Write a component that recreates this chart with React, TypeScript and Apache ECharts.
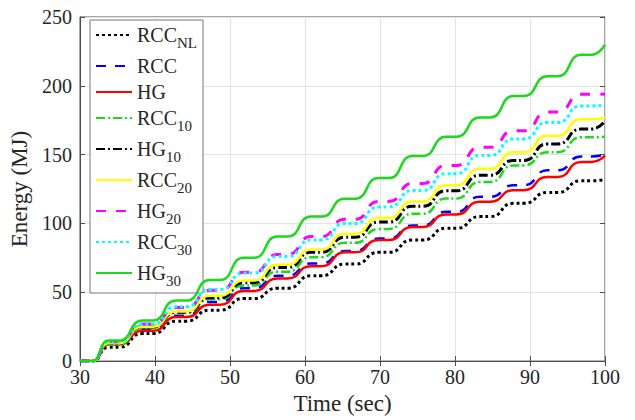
import React, { useEffect, useRef } from "react";
import * as echarts from "echarts";

// Times (sec) at the centre of each plateau of the stepped energy curves
const stepCenters = [34.5, 39, 43.5, 48, 52.5, 57, 61.5, 66, 70.5, 75, 79.5, 84, 88.5, 93, 97.5];
const startTime = 30;
const riseStart = 31.6;
const endTime = 100;
const plateauHalf = 0.7;

const seriesNames = ["RCC_NL", "RCC", "HG", "RCC_10", "HG_10", "RCC_20", "HG_20", "RCC_30", "HG_30"];

// Plateau energies (MJ) and energy at t = 100 s
const rccNL = [10, 20, 29, 37, 45.5, 53, 62, 70.5, 79, 88, 96.5, 105, 114.6, 122.5, 131];
const rccNLEnd = 132;
const rcc = [12, 23, 33, 43, 53, 62, 71, 80, 89, 98.5, 108.5, 119.4, 127.8, 138.6, 148.7];
const rccEnd = 150;
const hg = [12, 22, 32, 41, 51, 60, 69, 79, 88, 97.5, 106.6, 115.8, 124.2, 133.8, 144.6];
const hgEnd = 149.4;
const rcc10 = [12, 24, 35, 45, 55, 65, 75.5, 86, 96, 107, 118.2, 130.2, 142.2, 151.8, 162.6];
const rcc10End = 163;
const hg10 = [13, 25, 35.5, 46, 57, 68, 79, 90, 101, 112.5, 123.7, 135, 145.8, 157.8, 168.6];
const hg10End = 174.6;
const rcc20 = [13, 25, 36, 47.5, 58.5, 70, 81, 92.5, 104, 116, 127.8, 139.8, 151.8, 163.8, 175.8];
const rcc20End = 177;
const hg20 = [14, 27, 39, 51.5, 64.5, 77.5, 90.5, 103, 116, 129, 142.2, 155.4, 167.4, 181, 193.8];
const hg20End = 194;
const rcc30 = [14, 27, 39.5, 52, 64, 76, 88, 100, 112, 124, 136.2, 149.4, 161.4, 173.4, 185.4];
const rcc30End = 186;
const hg30 = [15, 29.5, 44, 59, 75, 90.5, 105, 118, 133, 149, 163, 177, 192.6, 207, 222.6];
const hg30End = 230;

const xTicks = [30, 40, 50, 60, 70, 80, 90, 100];
const yTicks = [0, 50, 100, 150, 200, 250];

const plateaus = [rccNL, rcc, hg, rcc10, hg10, rcc20, hg20, rcc30, hg30];
const ends = [rccNLEnd, rccEnd, hgEnd, rcc10End, hg10End, rcc20End, hg20End, rcc30End, hg30End];

const styles = [
  { color: "#000000", type: [3, 3], width: 3 },
  { color: "#0000ff", type: [10, 9], width: 2.5 },
  { color: "#ff0000", type: "solid", width: 2.5 },
  { color: "#1ed81e", type: [9, 3, 2, 3], width: 2.5 },
  { color: "#000000", type: [9, 3, 2, 3], width: 3 },
  { color: "#ffff00", type: "solid", width: 2.5 },
  { color: "#ff00ff", type: [10, 10], width: 3 },
  { color: "#00ffff", type: [3, 3], width: 3 },
  { color: "#1ed81e", type: "solid", width: 2.5 },
];

function buildData(p: number[], end: number) {
  const d: number[][] = [[startTime, 0], [riseStart, 0]];
  p.forEach((v, i) => {
    d.push([stepCenters[i] - plateauHalf, v]);
    d.push([stepCenters[i] + plateauHalf, v]);
  });
  d.push([endTime, end]);
  return d;
}

const FONT = "Liberation Serif";
const TXT = "#262626";

export default function App() {
  const ref = useRef<HTMLDivElement>(null);
  useEffect(() => {
    if (!ref.current) return;
    const chart = echarts.init(ref.current, undefined, { renderer: "svg" });
    const series = seriesNames.map((name, i) => ({
      name,
      type: "line",
      data: buildData(plateaus[i], ends[i]),
      showSymbol: false,
      symbol: "none",
      smooth: 0.6,
      smoothMonotone: "x",
      lineStyle: { color: styles[i].color, type: styles[i].type as any, width: styles[i].width, cap: "butt" },
      itemStyle: { color: styles[i].color },
      z: 2 + i,
    }));
    chart.setOption({
      animation: false,
      backgroundColor: "#ffffff",
      textStyle: { fontFamily: FONT },
      grid: {
        left: 80,
        right: 30,
        top: 17,
        bottom: 56,
        show: true,
        borderColor: "#4d4d4d",
        borderWidth: 1,
        backgroundColor: "transparent",
      },
      legend: {
        orient: "vertical",
        left: 90,
        top: 20,
        backgroundColor: "#ffffff",
        borderColor: "#777777",
        borderWidth: 1,
        padding: [5, 6, 5, 5],
        itemGap: 6,
        itemWidth: 36,
        itemHeight: 14,
        itemStyle: { opacity: 0 },
        data: seriesNames,
        textStyle: {
          fontFamily: FONT,
          fontSize: 20,
          color: TXT,
          rich: {
            m: { fontFamily: FONT, fontSize: 20, color: TXT },
            s: { fontFamily: FONT, fontSize: 15, color: TXT, padding: [15, 0, 0, 0] },
          },
        },
        formatter: (name: string) => {
          const [a, b] = name.split("_");
          return b ? `{m|${a}}{s|${b}}` : `{m|${a}}`;
        },
      },
      xAxis: [
        {
          type: "value",
          min: xTicks[0],
          max: xTicks[xTicks.length - 1],
          interval: 10,
          name: "Time (sec)",
          nameLocation: "middle",
          nameGap: 28,
          nameTextStyle: { fontFamily: FONT, fontSize: 23, color: TXT },
          axisLine: { show: true, lineStyle: { color: "#4d4d4d" } },
          axisTick: { show: true, inside: true, length: 5, lineStyle: { color: "#4d4d4d" } },
          axisLabel: { fontFamily: FONT, fontSize: 20, color: TXT, margin: 6 },
          splitLine: { show: true, lineStyle: { color: "#e3e3e3", width: 1 } },
        },
        {
          type: "value",
          position: "top",
          min: xTicks[0],
          max: xTicks[xTicks.length - 1],
          interval: 10,
          axisLine: { show: false },
          axisTick: { show: true, inside: true, length: 5, lineStyle: { color: "#4d4d4d" } },
          axisLabel: { show: false },
          splitLine: { show: false },
        },
      ],
      yAxis: [
        {
          type: "value",
          min: yTicks[0],
          max: yTicks[yTicks.length - 1],
          interval: 50,
          name: "Energy (MJ)",
          nameLocation: "middle",
          nameGap: 44,
          nameTextStyle: { fontFamily: FONT, fontSize: 23, color: TXT },
          axisLine: { show: true, lineStyle: { color: "#4d4d4d" } },
          axisTick: { show: true, inside: true, length: 5, lineStyle: { color: "#4d4d4d" } },
          axisLabel: { fontFamily: FONT, fontSize: 20, color: TXT, margin: 8 },
          splitLine: { show: true, lineStyle: { color: "#e3e3e3", width: 1 } },
        },
        {
          type: "value",
          position: "right",
          min: yTicks[0],
          max: yTicks[yTicks.length - 1],
          interval: 50,
          axisLine: { show: false },
          axisTick: { show: true, inside: true, length: 5, lineStyle: { color: "#4d4d4d" } },
          axisLabel: { show: false },
          splitLine: { show: false },
        },
      ],
      series,
    });
    return () => chart.dispose();
  }, []);
  return <div ref={ref} style={{ width: 635, height: 420, position: "absolute", left: 0, top: 0 }} />;
}
